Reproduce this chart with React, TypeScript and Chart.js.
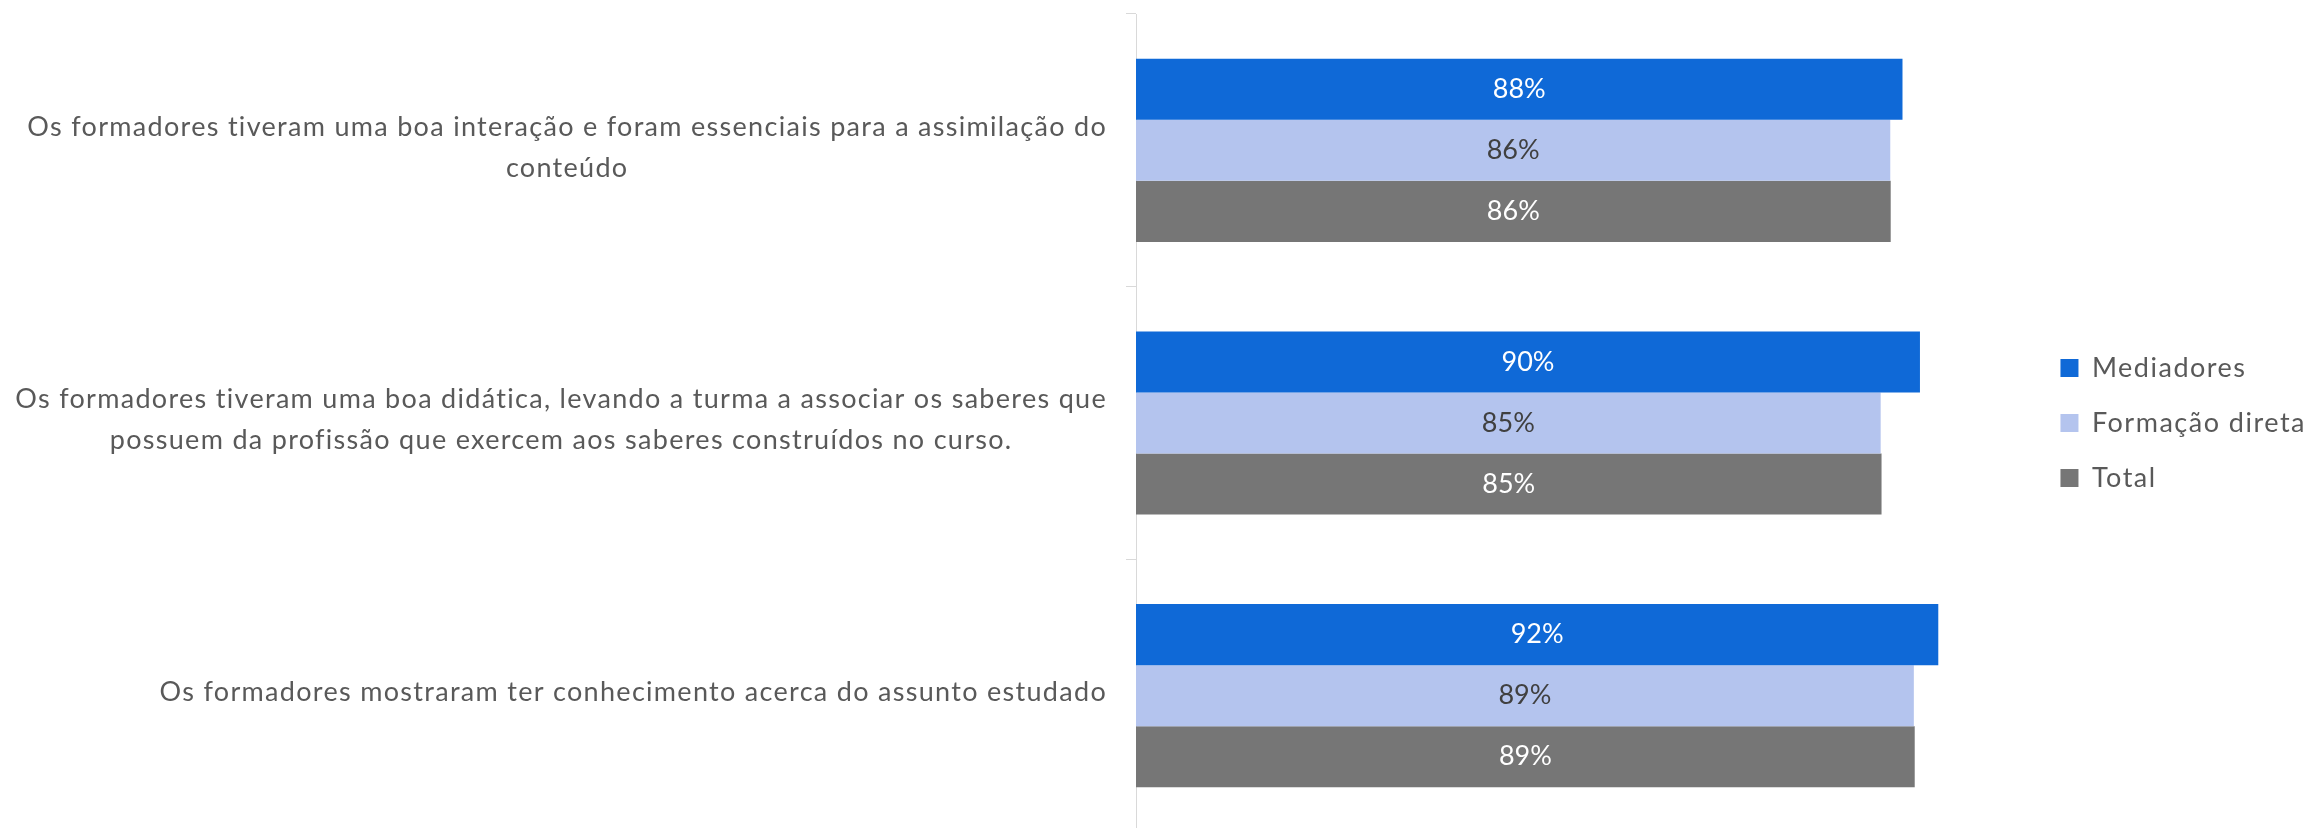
import React, { useEffect, useRef } from "react";
import { Chart, registerables } from "chart.js";

Chart.register(...registerables);

const categories: string[][] = [
  ["Os formadores tiveram uma boa interação e foram essenciais para a assimilação do", "conteúdo"],
  ["Os formadores tiveram uma boa didática, levando a turma a associar os saberes que", "possuem da profissão que exercem aos saberes construídos no curso."],
  ["Os formadores mostraram ter conhecimento acerca do assunto estudado"],
];
const seriesNames = ["Mediadores", "Formação direta", "Total"];
const mediadores = [87.8, 89.8, 91.9];
const formacaoDireta = [86.4, 85.3, 89.1];
const total = [86.45, 85.4, 89.2];

const COLORS = ["#0F69D7", "#B4C4EE", "#767676"];
const LABEL_COLORS = ["#FFFFFF", "#404040", "#FFFFFF"];
const FONT = "Lato";
const TEXT = "#595959";
const PX_PER_PERCENT = 8.73;

const spacingPlugin = {
  id: "legendSpacing",
  beforeLayout(chart: any) {
    chart.ctx.letterSpacing = "1.5px";
  },
  beforeDraw(chart: any) {
    chart.ctx.letterSpacing = "1.5px";
  },
};

const categoryLabelPlugin = {
  id: "categoryLabels",
  afterDraw(chart: any) {
    const ctx = chart.ctx;
    const yScale = chart.scales.y;
    ctx.save();
    ctx.letterSpacing = "1.3px";
    ctx.font = `27px ${FONT}`;
    ctx.fillStyle = TEXT;
    ctx.textAlign = "center";
    ctx.textBaseline = "middle";
    const lineH = 41;
    const right = yScale.right - 29;
    categories.forEach((lines, i) => {
      const cy = yScale.getPixelForTick(i) - 3;
      const w = Math.max(...lines.map((l) => ctx.measureText(l).width));
      const cx = right - w / 2;
      lines.forEach((l, j) => {
        ctx.fillText(l, cx, cy + (j - (lines.length - 1) / 2) * lineH);
      });
    });
    ctx.restore();
  },
};

const dataLabelPlugin = {
  id: "dataLabels",
  afterDatasetsDraw(chart: any) {
    const ctx = chart.ctx;
    ctx.save();
    ctx.letterSpacing = "0px";
    ctx.font = `27px ${FONT}`;
    ctx.textAlign = "center";
    ctx.textBaseline = "middle";
    chart.data.datasets.forEach((ds: any, di: number) => {
      const meta = chart.getDatasetMeta(di);
      ctx.fillStyle = LABEL_COLORS[di];
      meta.data.forEach((el: any, i: number) => {
        const v = ds.data[i] as number;
        ctx.fillText(`${Math.round(v)}%`, (el.x + el.base) / 2, el.y);
      });
    });
    ctx.restore();
  },
};

export default function App() {
  const ref = useRef<HTMLCanvasElement | null>(null);
  useEffect(() => {
    if (!ref.current) return;
    const chart = new Chart(ref.current, {
      type: "bar",
      data: {
        labels: categories.map((c) => c.join(" ")),
        datasets: [mediadores, formacaoDireta, total].map((d, i) => ({
          label: seriesNames[i],
          data: d,
          backgroundColor: COLORS[i],
          borderWidth: 0,
          barPercentage: 1,
          categoryPercentage: 0.672,
        })),
      },
      options: {
        indexAxis: "y",
        responsive: false,
        animation: false,
        maintainAspectRatio: false,
        layout: { padding: { top: 14, right: -8, bottom: 0, left: 0 } },
        scales: {
          y: {
            type: "category",
            offset: true,
            grid: {
              display: true,
              drawOnChartArea: false,
              drawTicks: true,
              tickLength: 10,
              offset: true,
              color: "#D9D9D9",
            },
            border: { display: true, color: "#D9D9D9", width: 1 },
            ticks: { display: false },
            afterFit: (s: any) => {
              s.width = 1136;
            },
          },
          x: {
            type: "linear",
            display: false,
            min: 0,
            max: 100,
            afterBuildTicks: (s: any) => {
              s.max = s.width / PX_PER_PERCENT;
            },
          },
        },
        plugins: {
          legend: {
            position: "right",
            labels: {
              boxWidth: 18,
              boxHeight: 18,
              padding: 28,
              color: TEXT,
              font: { size: 27, family: FONT },
            },
          },
          tooltip: { enabled: false },
        },
      },
      plugins: [spacingPlugin, categoryLabelPlugin, dataLabelPlugin],
    });
    return () => chart.destroy();
  }, []);
  return (
    <div style={{ position: "fixed", left: 0, top: 0, width: 2308, height: 828, overflow: "hidden", background: "#fff" }}>
      <canvas ref={ref} width={2308} height={832} style={{ display: "block" }} />
    </div>
  );
}
